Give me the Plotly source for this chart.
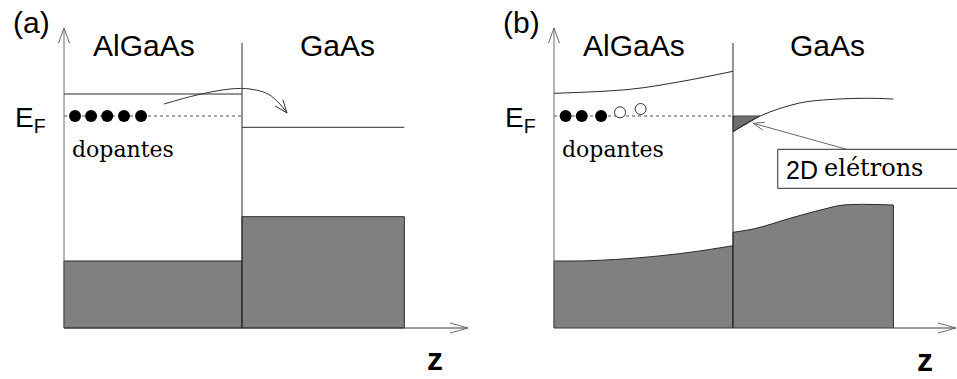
import math
import plotly.graph_objects as go

# ---------------- data (z in units of the AlGaAs layer width, E in arbitrary energy units) -------------
E_FERMI = 2.12

# panel (a): flat bands before charge transfer
A_INTERFACE_Z = 1.0
A_GAAS_END_Z = 1.912
A_EC_ALGAAS = 2.34
A_EC_GAAS = 2.007
A_EV_ALGAAS = 0.67
A_EV_GAAS = 1.113
A_DOPANT_Z = [0.062, 0.152, 0.243, 0.337, 0.433]
A_TRANSFER_Z = [0.562, 0.747, 0.933, 1.045, 1.146, 1.213, 1.253]
A_TRANSFER_E = [2.24, 2.33, 2.39, 2.39, 2.34, 2.24, 2.15]

# panel (b): bent bands after charge transfer
B_INTERFACE_Z = 1.0
B_EC_ALGAAS_Z = [0.0, 0.425, 0.704, 1.0]
B_EC_ALGAAS_E = [2.347, 2.387, 2.463, 2.567]
B_EC_GAAS_Z = [1.0, 1.151, 1.365, 1.504, 1.737, 1.896]
B_EC_GAAS_E = [1.963, 2.12, 2.247, 2.28, 2.297, 2.29]
B_EV_ALGAAS_Z = [0.0, 0.2, 0.48, 0.76, 1.0]
B_EV_ALGAAS_E = [0.67, 0.673, 0.703, 0.757, 0.823]
B_EV_GAAS_Z = [1.0, 1.13, 1.318, 1.505, 1.617, 1.896]
B_EV_GAAS_E = [0.957, 0.997, 1.097, 1.187, 1.23, 1.23]
B_DOPANT_Z = [0.065, 0.155, 0.263]
B_IONIZED_Z = [0.369, 0.484]
B_IONIZED_E = [2.157, 2.19]
B_POINTER_Z = [1.635, 1.113]
B_POINTER_E = [1.787, 2.047]
B_BOX_Z = [1.25, 2.26]
B_BOX_E = [1.397, 1.787]

# axis extents
Y_AXIS_TOP = 3.0
INTERFACE_TOP = 2.85
X_AXIS_END = {"x": 2.27, "x2": 2.246}

# text
PANEL_TAGS = ["(a)", "(b)"]
MATERIALS = ["AlGaAs", "GaAs"]
DOPANT_LABEL = "dopantes"
FERMI_LABEL = "E<sub>F</sub>"
Z_LABEL = "z"
TWO_DEG_LABEL = ["2D", "elétrons"]

# ---------------- geometry / style ----------------
W, H = 957, 379
PANEL = {
    "x": dict(z0=64.0, z1=242.0, dom=(0.0, 0.5)),
    "x2": dict(z0=554.0, z1=733.0, dom=(0.5, 1.0)),
}
E_AXIS_PX = 328.0
PX_PER_E = 100.0
SANS = "Liberation Sans, Arial, sans-serif"
SERIF = "DejaVu Serif, serif"
DARK = "#2a2a2a"
AXIS_C = "#6a6a6a"
FILL = "#808080"


def zscale(ax):
    p = PANEL[ax]
    return p["z1"] - p["z0"]


def xrange(ax):
    p = PANEL[ax]
    s = zscale(ax)
    return [(p["dom"][0] * W - p["z0"]) / s, (p["dom"][1] * W - p["z0"]) / s]


def chevron(ax, tz, te, fz, fe, length, half):
    s = zscale(ax)
    dx = (tz - fz) * s
    dy = (te - fe) * PX_PER_E
    n = math.hypot(dx, dy)
    ux, uy = dx / n, dy / n
    px, py = -uy, ux
    pts = [(-length * ux + half * px, -length * uy + half * py), (0.0, 0.0),
           (-length * ux - half * px, -length * uy - half * py)]
    return [tz + a / s for a, _ in pts], [te + b / PX_PER_E for _, b in pts]


fig = go.Figure()


def line(ax, xs, ys, color=DARK, width=1.0, dash=None, shape="linear"):
    fig.add_trace(go.Scatter(x=xs, y=ys, xaxis=ax, yaxis="y", mode="lines",
                             line=dict(color=color, width=width, dash=dash, shape=shape),
                             hoverinfo="skip"))


def axes_frame(ax, interface_z):
    # energy axis with open arrowhead
    line(ax, [0, 0], [0, Y_AXIS_TOP], color=AXIS_C)
    cx, cy = chevron(ax, 0, Y_AXIS_TOP, 0, 0, 15, 5.5)
    line(ax, cx, cy, color=AXIS_C)
    # z axis
    line(ax, [0, X_AXIS_END[ax]], [0, 0], color="#3a3a3a")
    cx, cy = chevron(ax, X_AXIS_END[ax], 0, 0, 0, 18, 5)
    line(ax, cx, cy, color=AXIS_C)
    # interface
    line(ax, [interface_z, interface_z], [0, INTERFACE_TOP], color=DARK)


# ---------------- panel (a) ----------------
ax = "x"
for z0, z1, ev in [(0.0, A_INTERFACE_Z, A_EV_ALGAAS), (A_INTERFACE_Z, A_GAAS_END_Z, A_EV_GAAS)]:
    fig.add_trace(go.Scatter(x=[z0, z0, z1, z1, z0], y=[0, ev, ev, 0, 0], xaxis=ax, yaxis="y",
                             mode="lines", fill="toself", fillcolor=FILL,
                             line=dict(color=DARK, width=1), hoverinfo="skip"))
axes_frame(ax, A_INTERFACE_Z)
line(ax, [0, A_INTERFACE_Z], [A_EC_ALGAAS, A_EC_ALGAAS])
line(ax, [A_INTERFACE_Z, A_GAAS_END_Z], [A_EC_GAAS, A_EC_GAAS])
line(ax, [0, A_INTERFACE_Z], [E_FERMI, E_FERMI], color="#8a8a8a", width=1.3, dash="dot")
fig.add_trace(go.Scatter(x=A_DOPANT_Z, y=[E_FERMI] * len(A_DOPANT_Z), xaxis=ax, yaxis="y",
                         mode="markers", marker=dict(size=12, color="black"), hoverinfo="skip"))
line(ax, A_TRANSFER_Z, A_TRANSFER_E, color="#333333", shape="spline")
cx, cy = chevron(ax, A_TRANSFER_Z[-1], A_TRANSFER_E[-1], A_TRANSFER_Z[-2], A_TRANSFER_E[-2], 13, 5)
line(ax, cx, cy, color="#333333")

# ---------------- panel (b) ----------------
ax = "x2"
for zs, es in [(B_EV_ALGAAS_Z, B_EV_ALGAAS_E), (B_EV_GAAS_Z, B_EV_GAAS_E)]:
    fig.add_trace(go.Scatter(x=zs, y=es, xaxis=ax, yaxis="y", mode="lines", fill="tozeroy",
                             fillcolor=FILL, line=dict(color=DARK, width=1, shape="spline"),
                             hoverinfo="skip"))
    line(ax, [zs[-1], zs[-1]], [0, es[-1]])
    line(ax, [zs[0], zs[0]], [0, es[0]])
# 2D electron gas: region between the GaAs conduction band and E_F at the interface
fig.add_trace(go.Scatter(x=[B_EC_GAAS_Z[0], B_EC_GAAS_Z[1], B_EC_GAAS_Z[0], B_EC_GAAS_Z[0]],
                         y=[E_FERMI, E_FERMI, B_EC_GAAS_E[0], E_FERMI], xaxis=ax, yaxis="y",
                         mode="lines", fill="toself", fillcolor="#6e6e6e",
                         line=dict(color="#444444", width=1), hoverinfo="skip"))
axes_frame(ax, B_INTERFACE_Z)
line(ax, B_EC_ALGAAS_Z, B_EC_ALGAAS_E, shape="spline")
line(ax, B_EC_GAAS_Z, B_EC_GAAS_E, shape="spline")
line(ax, [0, B_INTERFACE_Z], [E_FERMI, E_FERMI], color="#8a8a8a", width=1.3, dash="dot")
fig.add_trace(go.Scatter(x=B_DOPANT_Z, y=[E_FERMI] * len(B_DOPANT_Z), xaxis=ax, yaxis="y",
                         mode="markers", marker=dict(size=12, color="black"), hoverinfo="skip"))
fig.add_trace(go.Scatter(x=B_IONIZED_Z, y=B_IONIZED_E, xaxis=ax, yaxis="y", mode="markers",
                         marker=dict(size=11, color="white", line=dict(color="#333333", width=1)),
                         hoverinfo="skip"))
line(ax, B_POINTER_Z, B_POINTER_E, color="#666666")
cx, cy = chevron(ax, B_POINTER_Z[1], B_POINTER_E[1], B_POINTER_Z[0], B_POINTER_E[0], 11, 4)
line(ax, cx, cy, color="#666666")
fig.add_shape(type="rect", xref=ax, yref="y", x0=B_BOX_Z[0], x1=B_BOX_Z[1],
              y0=B_BOX_E[0], y1=B_BOX_E[1], line=dict(color=DARK, width=1),
              fillcolor="white", layer="above")

# ---------------- text ----------------
def px(x):
    return x / W


def py(y):
    return 1 - y / H


def label(text, x, y, size, family=SANS, xanchor="center", yanchor="middle", weight="normal"):
    fig.add_annotation(text=text, x=px(x), y=py(y), xref="paper", yref="paper", showarrow=False,
                       xanchor=xanchor, yanchor=yanchor,
                       font=dict(size=size, family=family, color="black", weight=weight))


for off, tag in zip([0, 490], PANEL_TAGS):
    label(tag, 31 + off, 23, 30)
    label(MATERIALS[0], 143.5 + off, 45, 30)
    label(MATERIALS[1], 337 + off, 45, 30)
    label(FERMI_LABEL, 13 + off, 119, 28, xanchor="left")
    label(DOPANT_LABEL, 123 + off, 149, 22, family=SERIF)
label(Z_LABEL, 435, 359, 32, weight="bold")
label(Z_LABEL, 925, 360, 32, weight="bold")
label(TWO_DEG_LABEL[0], 784, 170, 25, xanchor="left")
label(TWO_DEG_LABEL[1], 822, 168, 24, family=SERIF, xanchor="left")

fig.update_layout(
    width=W, height=H, margin=dict(l=0, r=0, t=0, b=0),
    paper_bgcolor="white", plot_bgcolor="white", showlegend=False,
    xaxis=dict(domain=list(PANEL["x"]["dom"]), range=xrange("x"), visible=False, fixedrange=True),
    xaxis2=dict(domain=list(PANEL["x2"]["dom"]), range=xrange("x2"), anchor="y", visible=False,
                fixedrange=True),
    yaxis=dict(range=[(E_AXIS_PX - H) / PX_PER_E, E_AXIS_PX / PX_PER_E], visible=False,
               fixedrange=True),
)
fig.write_html("out.html")
